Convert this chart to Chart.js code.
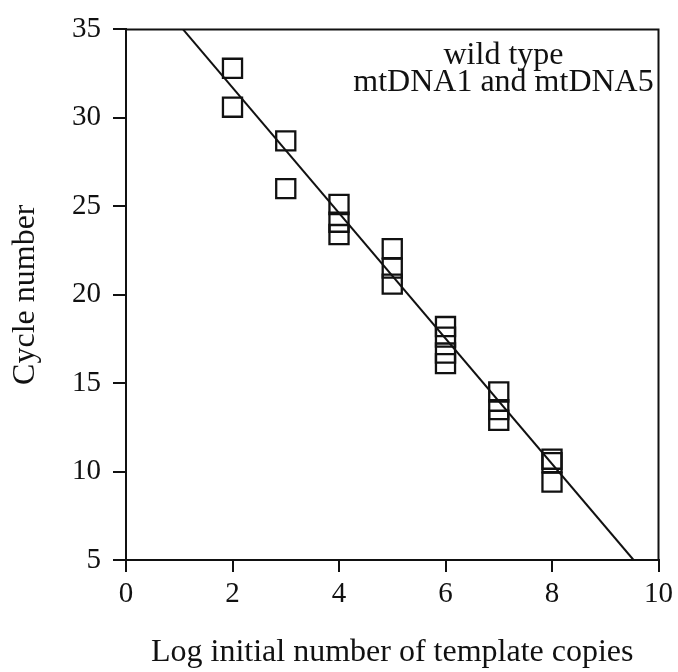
<!DOCTYPE html>
<html>
<head>
<meta charset="utf-8">
<script src="https://cdn.jsdelivr.net/npm/chart.js@4.4.1/dist/chart.umd.min.js"></script>
<style>
  html, body { margin: 0; padding: 0; background: #fff; }
  #wrap { width: 678px; height: 672px; }
</style>
</head>
<body>
<div id="wrap"><canvas id="chart" width="678" height="672"></canvas></div>
<script>
/* Standard curve: threshold cycle vs log template copies */

const logCopies = [2, 2, 3, 3, 4, 4, 4, 5, 5, 5, 6, 6, 6, 6, 7, 7, 7, 8, 8, 8];
const cycleNumbers = [32.8, 30.6, 28.7, 26.0, 25.1, 24.1, 23.4, 22.6, 21.5, 20.6,
                      18.2, 17.6, 16.7, 16.1, 14.5, 13.5, 12.9, 10.7, 10.5, 9.4];

// fitted line: cycle = slope * log + intercept
const fitSlope = -3.546;
const fitIntercept = 38.8;

const xTicks = [0, 2, 4, 6, 8, 10];
const yTicks = [5, 10, 15, 20, 25, 30, 35];
const noteLines = ['wild type', 'mtDNA1 and mtDNA5'];

const SERIF = '"Liberation Serif", "Times New Roman", Times, serif';
const INK = '#111';

// fit endpoints where the line meets the top and bottom of the y range
const yMin = yTicks[0], yMax = yTicks[yTicks.length - 1];
const fitLine = [
  { x: (yMax - fitIntercept) / fitSlope, y: yMax },
  { x: (yMin - fitIntercept) / fitSlope, y: yMin },
];

const framePlugin = {
  id: 'frame',
  afterDatasetsDraw(chart) {
    const { ctx, chartArea: a } = chart;
    ctx.save();
    ctx.strokeStyle = INK;
    ctx.lineWidth = 2;
    ctx.beginPath();
    ctx.moveTo(a.left, a.top);
    ctx.lineTo(a.right, a.top);
    ctx.lineTo(a.right, a.bottom);
    ctx.stroke();

    // label in the upper right corner
    ctx.fillStyle = INK;
    ctx.font = '32px ' + SERIF;
    ctx.textAlign = 'center';
    ctx.textBaseline = 'middle';
    const cx = a.right - 155;
    noteLines.forEach((t, i) => ctx.fillText(t, cx, a.top + 26 + i * 27));
    ctx.restore();
  }
};

new Chart(document.getElementById('chart'), {
  type: 'scatter',
  data: {
    datasets: [
      {
        label: 'samples',
        data: logCopies.map((x, i) => ({ x, y: cycleNumbers[i] })),
        pointStyle: 'rect',
        pointRadius: 13.5,
        pointBorderWidth: 2.3,
        pointBorderColor: INK,
        pointBackgroundColor: 'rgba(0,0,0,0)',
        showLine: false,
      },
      {
        label: 'fit',
        data: fitLine,
        showLine: true,
        borderColor: INK,
        borderWidth: 2,
        pointRadius: 0,
        fill: false,
      },
    ],
  },
  options: {
    responsive: false,
    animation: false,
    layout: { padding: { top: 21, right: 18, bottom: 0, left: 0 } },
    plugins: { legend: { display: false }, tooltip: { enabled: false } },
    scales: {
      x: {
        type: 'linear',
        min: xTicks[0],
        max: xTicks[xTicks.length - 1],
        afterBuildTicks: s => { s.ticks = xTicks.map(v => ({ value: v })); },
        afterFit: s => { s.height = 112; },
        border: { color: INK, width: 2 },
        grid: { drawOnChartArea: false, tickLength: 12, color: INK, lineWidth: 2 },
        ticks: { color: INK, font: { family: SERIF, size: 29 }, padding: 5, maxRotation: 0 },
        title: {
          display: true,
          text: 'Log initial number of template copies',
          color: INK,
          font: { family: SERIF, size: 32, lineHeight: 1.2 },
          padding: { top: 0, bottom: 0 },
        },
      },
      y: {
        type: 'linear',
        min: yMin,
        max: yMax,
        afterBuildTicks: s => { s.ticks = yTicks.map(v => ({ value: v })); },
        afterFit: s => { s.width = 126; },
        border: { color: INK, width: 2 },
        grid: { drawOnChartArea: false, tickLength: 13, color: INK, lineWidth: 2 },
        ticks: { color: INK, font: { family: SERIF, size: 29 }, padding: 12 },
        title: {
          display: true,
          text: 'Cycle number',
          color: INK,
          font: { family: SERIF, size: 32, lineHeight: 1.2 },
          padding: { top: 6, bottom: 0 },
        },
      },
    },
  },
  plugins: [framePlugin],
});
</script>
</body>
</html>
